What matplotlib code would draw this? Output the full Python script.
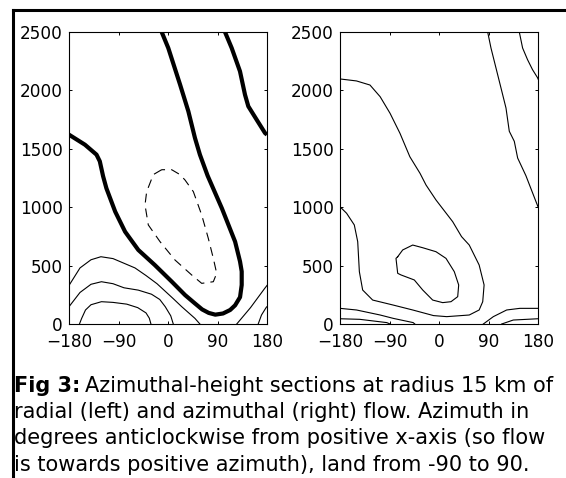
import matplotlib
matplotlib.use("Agg")
import matplotlib.pyplot as plt
from matplotlib.lines import Line2D
import numpy as np

plt.rcParams['font.family'] = ['DejaVu Sans']

W, H = 566, 478

# ---------------- data (azimuth in degrees, height in m) ----------------
xticks = [-180, -90, 0, 90, 180]
xticklabels = ['\u2212180', '\u221290', '0', '90', '180']
yticks = [0, 500, 1000, 1500, 2000, 2500]
yticklabels = ['0', '500', '1000', '1500', '2000', '2500']

# Left panel: radial flow
# thick zero contour (U shape)
L_zero_az = [-180, -151, -130, -124, -118, -112, -96, -78, -54, -24, 7, 31, 48, 62, 74, 86,
             100, 113, 122, 131, 134, 134, 131, 122, 98, 72, 58, 49, 37, 22, 0.5, -11.5]
L_zero_h = [1621, 1535, 1450, 1393, 1265, 1162, 962, 790, 634, 505, 362, 248, 180, 125, 95, 80,
            90, 120, 160, 230, 334, 450, 534, 705, 990, 1270, 1450, 1593, 1821, 2049, 2363, 2500]
# thick zero contour, right side
L_zero2_az = [103.6, 115.8, 130.9, 140, 146, 161.2, 176.4, 180]
L_zero2_h = [2500, 2363, 2163, 1963, 1864, 1749, 1635, 1621]
# dashed negative contour (closed)
L_neg_az = [-11.5, -26.7, -38.8, -41.8, -35.8, -14.5, 12.7, 43, 61.3, 82.4, 88.5, 82.4, 73.3,
            61.3, 46.1, 30.9, 21.8, 6.7, -11.5]
L_neg_h = [1321, 1279, 1133, 1019, 848, 705, 548, 420, 348, 362, 434, 562, 733,
           933, 1133, 1233, 1279, 1321, 1321]
# thin positive contours near the ground
L_p1_az = [-180, -160, -140, -122, -100, -80, -60, -40, -20, -5, 10, 25, 49, 58]
L_p1_h = [330, 480, 550, 576, 560, 520, 480, 415, 345, 280, 215, 148, 48, 0]
L_p1r_az = [125, 150, 176, 180]
L_p1r_h = [0, 140, 306, 330]
L_p2_az = [-180, -160, -140, -121, -100, -80, -54, -30, -15, -5, 5, 9.6]
L_p2_h = [148, 270, 340, 362, 345, 310, 290, 255, 210, 148, 70, 0]
L_p2r_az = [164, 170, 179, 180]
L_p2r_h = [0, 77, 145, 148]
L_p3_az = [-161, -157, -150, -140, -121, -100, -75, -55, -40, -34, -31]
L_p3_h = [0, 48, 120, 165, 191, 185, 170, 140, 95, 50, 0]

# Right panel: azimuthal flow
R_c1_az = [-180, -150, -125.5, -107, -89, -71, -53, -34.5, -23.6, -5.5, 24.9, 41, 55, 73, 82,
           79.5, 73, 55, 14, -10, -47.8, -84, -120.6, -138.8, -144.8, -147.8, -154, -168, -180]
R_c1_h = [2098, 2081, 2046, 1946, 1804, 1633, 1432, 1290, 1190, 1062, 876, 748, 676, 505, 334,
          191, 120, 77, 63, 72, 120, 163, 205, 291, 448, 705, 848, 948, 1004]
R_c2_az = [88.5, 94.5, 103.6, 112.7, 121.8, 127.8, 136.9, 143, 158, 176.4, 180]
R_c2_h = [2500, 2363, 2192, 2021, 1849, 1650, 1564, 1421, 1270, 1047, 1004]
R_c3_az = [146, 152, 161, 170, 179.5, 180]
R_c3_h = [2500, 2363, 2263, 2178, 2106, 2098]
R_in_az = [-75.1, -66, -47.8, -29.6, -5.5, 12.7, 27.8, 35.8, 34, 21.8, 6.7, -11.5, -29.6,
           -44.9, -69.1, -75.1, -78.2, -75.1]
R_in_h = [576, 634, 676, 653, 619, 562, 448, 334, 234, 191, 183, 205, 291,
          377, 420, 434, 562, 576]
R_b1_az = [-180, -150, -107, -83, -47, -44]
R_b1_h = [134, 120, 77, 48, 12, 0]
R_b1r_az = [80.6, 98.8, 123, 147, 180]
R_b1r_h = [0, 63, 120, 134, 134]
R_b2_az = [-180, -144, -95, -89]
R_b2_h = [45, 40, 12, 0]
R_b2r_az = [114, 135, 180]
R_b2r_h = [0, 34, 45]

# ---------------- figure ----------------
fig = plt.figure(figsize=(W / 100, H / 100), dpi=100)
fig.patch.set_facecolor('white')

def px_axes(x0, x1, y0, y1):
    return fig.add_axes([x0 / W, 1 - y1 / H, (x1 - x0) / W, (y1 - y0) / H])

axL = px_axes(69, 267, 32, 324)
axR = px_axes(340, 538, 32, 324)

thin = 0.8
thick = 3.0
for ax in (axL, axR):
    ax.set_xlim(-180, 180)
    ax.set_ylim(0, 2500)
    ax.set_xticks(xticks)
    ax.set_xticklabels(xticklabels)
    ax.set_yticks(yticks)
    ax.set_yticklabels(yticklabels)
    ax.tick_params(direction='in', length=2.5, width=0.7, top=True, right=True,
                   labelsize=12.2, colors='black')
    ax.tick_params(axis='x', pad=6.5)
    ax.tick_params(axis='y', pad=4.5)
    for s in ax.spines.values():
        s.set_linewidth(0.8)

# Left panel
axL.plot(L_zero_az, L_zero_h, color='black', lw=thick, solid_capstyle='butt', solid_joinstyle='round')
axL.plot(L_zero2_az, L_zero2_h, color='black', lw=thick, solid_capstyle='butt', solid_joinstyle='round')
axL.plot(L_neg_az, L_neg_h, color='black', lw=thin, linestyle=(0, (8, 5.5)))
for az, h in [(L_p1_az, L_p1_h), (L_p1r_az, L_p1r_h), (L_p2_az, L_p2_h),
              (L_p2r_az, L_p2r_h), (L_p3_az, L_p3_h)]:
    axL.plot(az, h, color='black', lw=thin)

# Right panel
for az, h in [(R_c1_az, R_c1_h), (R_c2_az, R_c2_h), (R_c3_az, R_c3_h), (R_in_az, R_in_h),
              (R_b1_az, R_b1_h), (R_b1r_az, R_b1r_h), (R_b2_az, R_b2_h), (R_b2r_az, R_b2r_h)]:
    axR.plot(az, h, color='black', lw=thin)

# Border lines (top and left)
fig.add_artist(Line2D([12.5 / W, 1.0], [1 - 9.5 / H, 1 - 9.5 / H], color='black', lw=2.2,
                      transform=fig.transFigure, solid_capstyle='projecting'))
fig.add_artist(Line2D([12.5 / W, 12.5 / W], [1 - 9.5 / H, 0.0], color='black', lw=2.2,
                      transform=fig.transFigure, solid_capstyle='projecting'))

# Caption
cap_fs = 15.0
x0 = 14 / W
lines = [
    "Azimuthal-height sections at radius 15 km of",
    "radial (left) and azimuthal (right) flow. Azimuth in",
    "degrees anticlockwise from positive x-axis (so flow",
    "is towards positive azimuth), land from -90 to 90.",
]
baselines = [392, 418, 444, 471]
tb = fig.text(x0, 1 - baselines[0] / H, "Fig 3:", fontsize=cap_fs, fontweight='bold',
              ha='left', va='baseline')
fig.canvas.draw()
bb = tb.get_window_extent(renderer=fig.canvas.get_renderer())
xr = bb.x1 / W + 5 / W
fig.text(xr, 1 - baselines[0] / H, lines[0], fontsize=cap_fs, ha='left', va='baseline')
for ln, b in zip(lines[1:], baselines[1:]):
    fig.text(x0, 1 - b / H, ln, fontsize=cap_fs, ha='left', va='baseline')

fig.savefig('out.png', dpi=100, facecolor='white')
